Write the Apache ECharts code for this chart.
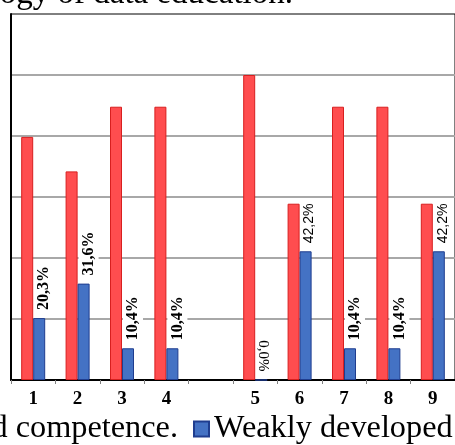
<!DOCTYPE html>
<html>
<head>
<meta charset="utf-8">
<script src="https://cdn.jsdelivr.net/npm/echarts@6/dist/echarts.min.js"></script>
<style>
  html, body { margin: 0; padding: 0; background: #fff; }
  #chart { width: 455px; height: 445px; }
</style>
</head>
<body>
<div id="chart"></div>
<script>
// Survey groups (an empty slot separates groups 1-4 from 5-9)
const categories = ['1', '2', '3', '4', '', '5', '6', '7', '8', '9'];
// Share of students, %
const developed = [79.7, 68.4, 89.6, 89.6, '-', 100.0, 57.8, 89.6, 89.6, 57.8];
const weaklyDeveloped = [20.3, 31.6, 10.4, 10.4, '-', 0.0, 42.2, 10.4, 10.4, 42.2];
const seriesNames = ['Well developed competence.', 'Weakly developed competence.'];
const captionText = 'Fig. 2. Results of the methodology of data education.';

const SERIF = '"Liberation Serif", "Times New Roman", serif';
const SANS = '"Liberation Sans", Arial, sans-serif';
const BAR_W = 12;

function pct(v) {
  return v.toFixed(1).replace('.', ',') + '%';
}

// Vertical value label anchored just above the bar; dx shifts it sideways
function barLabel(dx, extra) {
  return Object.assign({
    show: true,
    position: [BAR_W / 2 + dx, -6],
    rotate: 90,
    align: 'left',
    verticalAlign: 'middle',
    color: '#000',
    backgroundColor: '#fff',
    padding: [2, 2],
    fontFamily: SANS,
    fontSize: 14
  }, extra);
}

function blueItems() {
  return weaklyDeveloped.map((v) => {
    if (v === '-') return v;
    let label;
    if (v === 0) {
      label = barLabel(2, {
        rotate: -90, align: 'right', fontFamily: SERIF, fontSize: 15,
        backgroundColor: 'transparent'
      });
    } else if (v > 40) {
      label = barLabel(4, {});
    } else {
      label = barLabel(5, { fontFamily: SERIF, fontWeight: 'bold', fontSize: 16 });
    }
    label.formatter = pct(v);
    return { value: v, label: label };
  });
}

// Labels for the red bars, carried by an invisible point series at the same values
function redLabelItems() {
  return developed.map((v, i) => {
    if (v === '-') return v;
    return {
      value: v,
      label: { formatter: i === 0 ? pct(v).replace('%', ' %') : pct(v) }
    };
  });
}

const legendText = { fontFamily: SERIF, fontSize: 32.3, color: '#000' };

const chart = echarts.init(document.getElementById('chart'), null, { renderer: 'canvas' });

chart.setOption({
  animation: false,
  backgroundColor: '#fff',
  grid: {
    left: 11, top: 14, right: -6, bottom: 65,
    show: true, borderColor: '#000', borderWidth: 1, backgroundColor: 'transparent'
  },
  legend: [
    {
      data: [seriesNames[0]],
      right: 277, top: 413, padding: 0,
      itemWidth: 15, itemHeight: 15, icon: 'rect',
      selectedMode: false,
      textStyle: legendText
    },
    {
      data: [seriesNames[1]],
      left: 193, top: 413, padding: 0,
      itemWidth: 15, itemHeight: 15, icon: 'rect',
      selectedMode: false,
      textStyle: legendText
    }
  ],
  graphic: [{
    type: 'text',
    right: 162,
    top: -22,
    style: { text: captionText, font: '33px ' + SERIF, fill: '#000' }
  }],
  xAxis: {
    type: 'category',
    data: categories,
    axisLine: { lineStyle: { color: '#000', width: 2 } },
    axisTick: { show: true, interval: 0, length: 4, lineStyle: { color: '#808080' } },
    axisLabel: {
      interval: 0, margin: 10, color: '#000',
      fontFamily: SERIF, fontWeight: 'bold', fontSize: 19
    }
  },
  yAxis: {
    type: 'value',
    min: 0, max: 120, interval: 20,
    axisLabel: { show: false },
    axisTick: { show: false },
    axisLine: { show: true, lineStyle: { color: '#000', width: 2 } },
    splitLine: { show: true, showMaxLine: false, lineStyle: { color: '#a8a8a8', width: 2 } }
  },
  series: [
    {
      name: seriesNames[0],
      type: 'bar',
      barWidth: BAR_W,
      barGap: '0%',
      itemStyle: { color: '#ff4d4f', borderColor: '#d81f1f', borderWidth: 1 },
      data: developed
    },
    {
      name: seriesNames[1],
      type: 'bar',
      barWidth: BAR_W,
      barGap: '0%',
      itemStyle: { color: '#4472c4', borderColor: '#1f3d8f', borderWidth: 1 },
      data: blueItems()
    },
    {
      name: 'developedLabels',
      type: 'scatter',
      symbolSize: 1,
      itemStyle: { opacity: 0 },
      silent: true,
      z: 5,
      label: {
        show: true,
        position: 'top',
        distance: 6,
        rotate: 90,
        align: 'left',
        verticalAlign: 'middle',
        offset: [-BAR_W / 2, 0],
        color: '#000',
        backgroundColor: '#fff',
        padding: [2, 2],
        fontFamily: SANS,
        fontSize: 14
      },
      data: redLabelItems()
    }
  ]
});
</script>
</body>
</html>
